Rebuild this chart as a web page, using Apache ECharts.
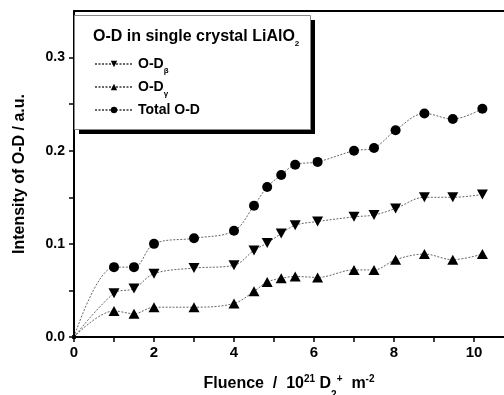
<!DOCTYPE html>
<html>
<head>
<meta charset="utf-8">
<script src="https://cdn.jsdelivr.net/npm/echarts@6/dist/echarts.min.js"></script>
<style>
  html, body { margin: 0; padding: 0; background: #fff; }
  #chart { width: 504px; height: 395px; }
</style>
</head>
<body>
<div id="chart"></div>
<script>
// fluence (10^21 D2+ m^-2) and O-D intensity (a.u.)
const fluence = [0, 1, 1.5, 2, 3, 4, 4.5, 4.83, 5.18, 5.53, 6.09, 7.0, 7.5, 8.04, 8.76, 9.47, 10.21];
const odBeta = [0, 0.047, 0.052, 0.068, 0.074, 0.077, 0.093, 0.101, 0.111, 0.120, 0.124, 0.129, 0.131, 0.138, 0.150, 0.150, 0.153];
const odGamma = [0, 0.028, 0.025, 0.032, 0.032, 0.036, 0.049, 0.059, 0.063, 0.065, 0.064, 0.072, 0.072, 0.083, 0.089, 0.083, 0.089];
const odTotal = [0, 0.075, 0.075, 0.100, 0.106, 0.114, 0.141, 0.161, 0.174, 0.185, 0.188, 0.200, 0.203, 0.222, 0.240, 0.234, 0.245];

const xTicks = [0, 1, 2, 3, 4, 5, 6, 7, 8, 9, 10];
const xTickLabels = [0, 2, 4, 6, 8, 10];
const yTicks = [0, 0.05, 0.1, 0.15, 0.2, 0.25, 0.3];
const yTickLabels = [0, 0.1, 0.2, 0.3];

const FONT = 'Arial, "Liberation Sans", sans-serif';

const chart = echarts.init(document.getElementById('chart'), null, { renderer: 'canvas' });

function pairs(ys) {
  return fluence.map((x, i) => [x, ys[i]]);
}

function makeSeries(name, ys, symbol, size, rotate) {
  return {
    name: name,
    type: 'line',
    smooth: 0.35,
    data: pairs(ys),
    symbol: symbol,
    symbolRotate: rotate || 0,
    symbolSize: (v) => (v[0] === 0 ? 4 : size),
    showAllSymbol: true,
    itemStyle: { color: '#000' },
    lineStyle: { color: '#666', width: 1, type: [2, 1.5] },
    z: 3
  };
}

function subRich(size) {
  return {
    b: { fontFamily: FONT, fontWeight: 'bold', fontSize: size, color: '#000', lineHeight: 16 },
    s: { fontFamily: FONT, fontWeight: 'bold', fontSize: 8, color: '#000', verticalAlign: 'bottom', lineHeight: 8, padding: [0, 0, -3, 0] }
  };
}

const option = {
  backgroundColor: '#fff',
  animation: false,
  grid: { left: 74, right: 0, top: 11, bottom: 58, outerBoundsMode: 'none' },
  title: {
    text: '{b|O-D in single crystal LiAlO}{s|2}',
    left: 93,
    top: 29,
    padding: 0,
    z: 20,
    textStyle: { rich: subRich(16) }
  },
  legend: {
    orient: 'vertical',
    left: 94,
    top: 57,
    padding: 0,
    itemWidth: 38,
    itemHeight: 8,
    itemGap: 5,
    data: ['O-Dβ', 'O-Dγ', 'Total O-D'],
    formatter: (name) => {
      if (name === 'O-Dβ') return '{b|O-D}{s|β}';
      if (name === 'O-Dγ') return '{b|O-D}{s|γ}';
      return '{b|' + name + '}';
    },
    textStyle: { padding: [0, 0, 0, 0], rich: subRich(14) },
    z: 20
  },
  graphic: [
    {
      type: 'rect', left: 79, top: 20, z: 10,
      shape: { width: 236, height: 114 },
      style: { fill: '#000' }
    },
    {
      type: 'rect', left: 74, top: 15, z: 11,
      shape: { width: 236, height: 114 },
      style: { fill: '#fff', stroke: '#888', lineWidth: 1 }
    }
  ],
  xAxis: [
    {
      type: 'value',
      min: 0,
      max: 10.75,
      interval: 1,
      name: '{t|Fluence  /  10}{sp|21}{t| D}{sb|2}{sp|+}{t|  m}{sp|-2}',
      nameLocation: 'middle',
      nameGap: 37,
      nameTextStyle: {
        rich: {
          t: { fontFamily: FONT, fontWeight: 'bold', fontSize: 16, color: '#000', lineHeight: 20, verticalAlign: 'middle' },
          sp: { fontFamily: FONT, fontWeight: 'bold', fontSize: 10, color: '#000', lineHeight: 10, verticalAlign: 'top' },
          sb: { fontFamily: FONT, fontWeight: 'bold', fontSize: 10, color: '#000', lineHeight: 10, verticalAlign: 'bottom', padding: [0, 0, -6, 0] }
        }
      },
      axisLine: { show: true, onZero: false, lineStyle: { color: '#000', width: 2 } },
      axisTick: { show: true, inside: false, length: 5, customValues: xTicks, lineStyle: { color: '#000', width: 1.5 } },
      axisLabel: {
        customValues: xTickLabels,
        margin: 8,
        fontFamily: FONT,
        fontWeight: 'bold',
        fontSize: 15,
        color: '#000'
      },
      splitLine: { show: false }
    },
    {
      type: 'value',
      position: 'top',
      min: 0,
      max: 10.75,
      axisLine: { show: true, onZero: false, lineStyle: { color: '#000', width: 2 } },
      axisTick: { show: false },
      axisLabel: { show: false },
      splitLine: { show: false }
    }
  ],
  yAxis: {
    type: 'value',
    min: 0,
    max: 0.35,
    interval: 0.05,
    name: 'Intensity of O-D / a.u.',
    nameLocation: 'middle',
    nameGap: 46,
    nameTextStyle: { fontFamily: FONT, fontWeight: 'bold', fontSize: 16, color: '#000' },
    axisLine: { show: true, onZero: false, lineStyle: { color: '#000', width: 2 } },
    axisTick: { show: true, inside: false, length: 5, customValues: yTicks, lineStyle: { color: '#000', width: 1.5 } },
    axisLabel: {
      customValues: yTickLabels,
      formatter: (v) => v.toFixed(1),
      margin: 9,
      fontFamily: FONT,
      fontWeight: 'bold',
      fontSize: 14,
      color: '#000'
    },
    splitLine: { show: false }
  },
  series: [
    makeSeries('O-Dβ', odBeta, 'triangle', [11, 10], 180),
    makeSeries('O-Dγ', odGamma, 'triangle', [11, 10], 0),
    makeSeries('Total O-D', odTotal, 'circle', 10, 0)
  ]
};

chart.setOption(option);
</script>
</body>
</html>
